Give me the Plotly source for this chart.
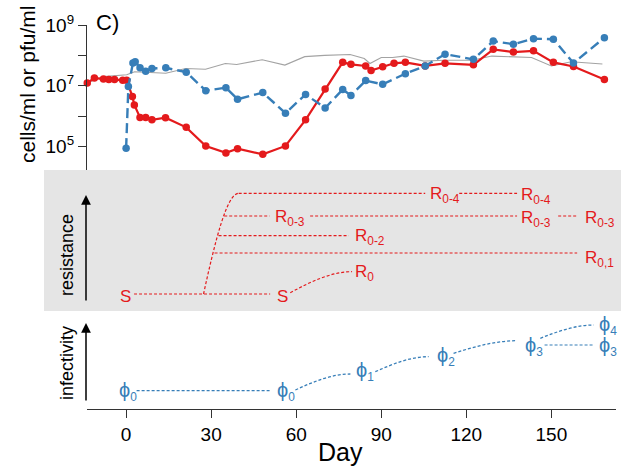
import plotly.graph_objects as go

# ---------------- data: top panel ----------------
bact_day = [-13.7, -11.2, -8.0, -6.1, -4.1, -1.2, 0.2, 2.2, 2.9, 4.9, 6.9, 9.1, 13.9, 21.2, 28.1,
            35.2, 39.3, 48.2, 56.2, 63.3, 70.2, 76.4, 79.3, 84.5, 86.4, 90.5, 94.5, 98.5, 105.5,
            112.5, 122.5, 129.5, 136.6, 143.7, 150.7, 157.8, 168.7]
bact_conc = [1.23e7, 1.82e7, 1.66e7, 1.62e7, 1.62e7, 1.51e7, 1.51e7, 4.47e6, 2.34e6, 9.1e5, 9.1e5,
             7.6e5, 8.9e5, 4.3e5, 1.05e5, 6.2e4, 8.5e4, 5.6e4, 1.05e5, 7.6e5, 7.9e6, 5.9e7, 5.1e7,
             4.5e7, 3.2e7, 4.2e7, 5.5e7, 5.9e7, 4.5e7, 5.5e7, 4.9e7, 1.58e8, 1.29e8, 1.41e8, 5.9e7,
             4.3e7, 1.62e7]

phage_day = [0.0, 0.8, 2.4, 3.2, 4.9, 6.9, 9.1, 14.0, 21.2, 28.1, 35.2, 39.3, 48.2, 56.2, 63.3,
             70.2, 76.4, 79.3, 84.5, 90.5, 98.5, 105.5, 112.5, 122.5, 129.5, 136.6, 143.7, 150.7,
             157.8, 168.7]
phage_conc = [8.9e4, 9.5e6, 5.6e7, 6.2e7, 3.9e7, 3.0e7, 3.7e7, 3.9e7, 2.8e7, 6.9e6, 8.7e6, 3.6e6,
              6.0e6, 1.26e6, 5.2e6, 1.86e6, 7.6e6, 4.8e6, 1.48e7, 1.12e7, 2.5e7, 4.5e7, 1.10e8,
              7.4e7, 2.95e8, 2.34e8, 3.55e8, 3.4e8, 5.6e7, 3.8e8]

ctrl_day = [-13.7, -8.0, 0.2, 3.0, 14.0, 21.0, 28.0, 35.0, 39.0, 48.0, 56.0, 63.0, 70.0, 76.0,
            79.0, 84.0, 86.0, 90.0, 94.0, 98.0, 105.0, 112.0, 122.0, 129.0, 136.0, 143.0, 150.0,
            157.0, 168.0]
ctrl_conc = [1.26e7, 2.0e7, 2.3e7, 2.9e7, 2.6e7, 3.7e7, 3.5e7, 5.4e7, 5.0e7, 7.2e7, 4.8e7, 9.1e7,
             1.0e8, 1.07e8, 1.07e8, 7.9e7, 5.4e7, 8.5e7, 8.5e7, 9.5e7, 6.5e7, 6.9e7, 6.9e7, 9.5e7,
             9.1e7, 8.5e7, 4.5e7, 6.2e7, 5.2e7]

y_tick_vals = [1e5, 1e6, 1e7, 1e8, 1e9]
y_tick_text = ["10<sup>5</sup>", "", "10<sup>7</sup>", "", "10<sup>9</sup>"]
x_tick_vals = [0, 30, 60, 90, 120, 150]

# ---------------- data: resistance schematic ----------------
res_text = ["S", "S", "R<sub>0</sub>", "R<sub>0,1</sub>", "R<sub>0-2</sub>", "R<sub>0-3</sub>",
            "R<sub>0-3</sub>", "R<sub>0-3</sub>", "R<sub>0-4</sub>", "R<sub>0-4</sub>"]
res_text_day = [-3.0, 52.6, 80.0, 161.2, 80.0, 51.8, 138.7, 161.2, 106.6, 138.7]
res_text_level = [14.3, 14.3, 37.7, 52.2, 74.3, 92.7, 92.0, 92.0, 116.0, 115.0]

res_seg_start = [2.8, 31.2, 32.6, 34.6, 64.9, 152.4, 39.7, 117.5]
res_seg_end = [50.8, 159.1, 78.5, 50.6, 137.9, 159.3, 105.5, 137.9]
res_seg_level = [17.0, 58.0, 75.3, 95.0, 95.0, 95.0, 117.7, 117.7]

res_curve_from = [(27.3, 17.0), (57.9, 18.3)]
res_curve_to = [(39.7, 117.7), (79.7, 39.3)]

# ---------------- data: infectivity schematic ----------------
inf_sub = ["0", "0", "1", "2", "3", "4", "3"]
inf_text_day = [-3.3, 52.6, 80.5, 109.0, 140.0, 166.0, 166.0]
inf_text_level = [17.5, 17.5, 37.5, 52.5, 63.0, 84.0, 62.5]

inf_seg_start = [3.7, 147.6]
inf_seg_end = [50.6, 164.9]
inf_seg_level = [18.3, 64.0]

inf_curve_from = [(59.7, 19.0), (87.9, 37.3), (115.5, 55.7), (146.1, 70.7)]
inf_curve_to = [(79.1, 35.0), (106.7, 52.3), (137.9, 68.3), (164.9, 84.0)]

# ---------------- styles ----------------
W, H = 621, 468
RED = "#e41a1c"
BLUE = "#377eb8"
GREY = "#a3a3a3"
AX = "#333333"
FONT = "Liberation Sans, Arial, Helvetica, sans-serif"
DOT = "3px,2px"


def px(x):
    return x / W


def py(y):
    return 1 - y / H


fig = go.Figure()

# top panel
fig.add_trace(go.Scatter(x=ctrl_day, y=ctrl_conc, mode="lines", xaxis="x", yaxis="y3",
                         line=dict(color=GREY, width=1.1), hoverinfo="skip"))
fig.add_trace(go.Scatter(x=bact_day, y=bact_conc, mode="lines+markers", xaxis="x", yaxis="y3",
                         line=dict(color=RED, width=2.2), marker=dict(color=RED, size=7.5),
                         cliponaxis=False))
fig.add_trace(go.Scatter(x=phage_day, y=phage_conc, mode="lines+markers", xaxis="x", yaxis="y3",
                         line=dict(color=BLUE, width=2.4, dash="10px,5px"),
                         marker=dict(color=BLUE, size=7.5), cliponaxis=False))


def segments(starts, ends, levels):
    xs, ys = [], []
    for a, b, lv in zip(starts, ends, levels):
        xs += [a, b, None]
        ys += [lv, lv, None]
    return xs, ys


rx, ry = segments(res_seg_start, res_seg_end, res_seg_level)
fig.add_trace(go.Scatter(x=rx, y=ry, mode="lines", xaxis="x", yaxis="y2",
                         line=dict(color=RED, width=1.2, dash=DOT), hoverinfo="skip"))
ix, iy = segments(inf_seg_start, inf_seg_end, inf_seg_level)
fig.add_trace(go.Scatter(x=ix, y=iy, mode="lines", xaxis="x", yaxis="y",
                         line=dict(color=BLUE, width=1.2, dash=DOT), hoverinfo="skip"))

shapes = [dict(type="rect", xref="paper", yref="paper", x0=px(44), x1=1, y0=py(311), y1=py(170),
               fillcolor="#e5e5e5", line=dict(width=0), layer="below")]


def bezier(p0, p1):
    dx, dy = p1[0] - p0[0], p1[1] - p0[1]
    c1 = (p0[0] + dx / 3, p0[1] + dy * 0.53)
    c2 = (p0[0] + dx * 2 / 3, p1[1])
    return f"M {p0[0]},{p0[1]} C {c1[0]},{c1[1]} {c2[0]},{c2[1]} {p1[0]},{p1[1]}"


for a, b in zip(res_curve_from, res_curve_to):
    shapes.append(dict(type="path", xref="x", yref="y2", path=bezier(a, b),
                       line=dict(color=RED, width=1.2, dash=DOT)))
for a, b in zip(inf_curve_from, inf_curve_to):
    shapes.append(dict(type="path", xref="x", yref="y", path=bezier(a, b),
                       line=dict(color=BLUE, width=1.3, dash=DOT)))

ann = []
for t, d, lv in zip(res_text, res_text_day, res_text_level):
    ann.append(dict(text=t, x=d, y=lv, xref="x", yref="y2", xanchor="left", yanchor="middle",
                    showarrow=False, font=dict(family=FONT, size=17, color=RED)))
for s, d, lv in zip(inf_sub, inf_text_day, inf_text_level):
    ann.append(dict(text="<span style='font-size:20px'>ϕ</span><sub>" + s + "</sub>",
                    x=d, y=lv, xref="x", yref="y", xanchor="left", yanchor="middle",
                    showarrow=False, font=dict(family=FONT, size=17, color=BLUE)))

# labels and arrows
ann += [
    dict(text="C)", x=px(94), y=py(22), xref="paper", yref="paper", xanchor="left",
         yanchor="middle", showarrow=False, font=dict(family=FONT, size=22, color="black")),
    dict(text="cells/ml or pfu/ml", x=px(27), y=py(84), xref="paper", yref="paper",
         xanchor="center", yanchor="middle",
         textangle=-90, showarrow=False, font=dict(family=FONT, size=21, color="black")),
    dict(text="resistance", x=px(67), y=py(255), xref="paper", yref="paper",
         xanchor="center", yanchor="middle",
         textangle=-90, showarrow=False, font=dict(family=FONT, size=18, color="black")),
    dict(text="infectivity", x=px(67), y=py(363), xref="paper", yref="paper",
         xanchor="center", yanchor="middle",
         textangle=-90, showarrow=False, font=dict(family=FONT, size=18, color="black")),
    dict(text="Day", x=px(340), y=py(452), xref="paper", yref="paper", showarrow=False,
         xanchor="center", yanchor="middle",
         font=dict(family=FONT, size=25, color="black")),
    dict(text="", x=px(86), y=py(195), xref="paper", yref="paper", showarrow=True,
         ax=0, ay=107, arrowhead=2, arrowsize=1.3, arrowwidth=1.5, arrowcolor="black"),
    dict(text="", x=px(86), y=py(323), xref="paper", yref="paper", showarrow=True,
         ax=0, ay=79, arrowhead=2, arrowsize=1.3, arrowwidth=1.5, arrowcolor="black"),
]

fig.update_layout(
    width=W, height=H, margin=dict(l=0, r=0, t=0, b=0, pad=0, autoexpand=False),
    paper_bgcolor="white", plot_bgcolor="rgba(0,0,0,0)", showlegend=False,
    font=dict(family=FONT, color="black"),
    xaxis=dict(domain=[px(87), px(616)], range=[-13.8, 172.8], anchor="y", automargin=False,
               showline=True, linecolor=AX, linewidth=1.3, ticks="outside", ticklen=8,
               tickwidth=1.3, tickcolor=AX, tickvals=x_tick_vals, showgrid=False, zeroline=False,
               tickfont=dict(family=FONT, size=19, color="black")),
    yaxis=dict(domain=[py(409), py(309)], range=[0, 100], visible=False, fixedrange=True,
               automargin=False),
    yaxis2=dict(domain=[py(311), py(170)], range=[0, 141], visible=False, fixedrange=True,
                automargin=False),
    yaxis3=dict(domain=[py(170), py(25)], type="log", range=[4.23, 9.0], anchor="free",
                position=px(86), showline=True, linecolor=AX, linewidth=1.3, ticks="outside",
                ticklen=8, tickwidth=1.3, tickcolor=AX, tickvals=y_tick_vals, automargin=False,
                ticktext=y_tick_text, showgrid=False, zeroline=False,
                tickfont=dict(family=FONT, size=19, color="black")),
    shapes=shapes, annotations=ann,
)

fig.write_html(
    "out.html",
    config={"displayModeBar": False},
    post_script=(
        "document.body.style.margin='0';document.body.style.padding='0';"
        "document.documentElement.style.overflow='hidden';"
        "var g=document.getElementById('{plot_id}');"
        "g.style.position='fixed';g.style.left='0px';g.style.top='0px';"
    ),
)
